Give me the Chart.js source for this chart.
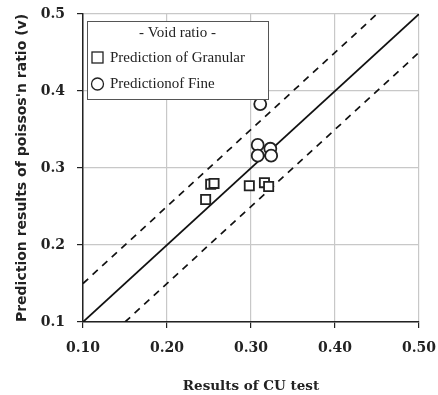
<!DOCTYPE html>
<html>
<head>
<meta charset="utf-8">
<script src="https://cdn.jsdelivr.net/npm/chart.js@4.4.1/dist/chart.umd.min.js"></script>
<style>
  html, body { margin: 0; padding: 0; background: #fff; }
</style>
</head>
<body>
<canvas id="chart" width="438" height="395"></canvas>
<script>
// values
const granularX = [0.246, 0.252, 0.256, 0.298, 0.316, 0.321];
const granularY = [0.259, 0.279, 0.280, 0.277, 0.281, 0.276];
const fineX = [0.311, 0.308, 0.323, 0.308, 0.324];
const fineY = [0.383, 0.330, 0.325, 0.316, 0.316];

// 1:1 line and +/-0.05 bounds
const lineX = [0.10, 0.50];
const lineY = [0.10, 0.50];
const upperX = [0.10, 0.45];
const upperY = [0.15, 0.50];
const lowerX = [0.15, 0.50];
const lowerY = [0.10, 0.45];

const axisTicks = [0.1, 0.2, 0.3, 0.4, 0.5];
const legendTitle = '- Void ratio -';
const seriesNames = ['Prediction of Granular', 'Predictionof Fine'];
const xTitle = 'Results of CU test';
const yTitle = "Prediction results of poissos'n ratio (v)";

const pts = (xs, ys) => xs.map((x, i) => ({ x: x, y: ys[i] }));

const legendBox = {
  id: 'legendBox',
  afterDatasetsDraw(chart) {
    const ctx = chart.ctx;
    const a = chart.chartArea;
    const x = a.left + 4, y = a.top + 7, w = 181, h = 78;
    ctx.save();
    ctx.fillStyle = '#fff';
    ctx.fillRect(x, y, w, h);
    ctx.strokeStyle = '#555';
    ctx.lineWidth = 1;
    ctx.strokeRect(x + 0.5, y + 0.5, w, h);
    ctx.fillStyle = '#222';
    ctx.font = '15px "Liberation Serif"';
    ctx.textBaseline = 'middle';
    ctx.textAlign = 'center';
    ctx.fillText(legendTitle, x + w / 2, y + 12);
    ctx.textAlign = 'left';
    ctx.fillText(seriesNames[0], x + 23, y + 37);
    ctx.fillText(seriesNames[1], x + 23, y + 63);
    ctx.strokeStyle = '#222';
    ctx.lineWidth = 1.3;
    ctx.strokeRect(x + 5, y + 31, 11, 11);
    ctx.beginPath();
    ctx.arc(x + 10.5, y + 63, 6, 0, Math.PI * 2);
    ctx.stroke();
    ctx.restore();
  }
};

const tickFont = { family: '"DejaVu Serif"', size: 14, weight: 'bold' };

new Chart(document.getElementById('chart'), {
  type: 'scatter',
  data: {
    datasets: [
      {
        label: seriesNames[0],
        data: pts(granularX, granularY),
        pointStyle: 'rect',
        pointRadius: 6.5,
        pointBackgroundColor: '#fff',
        pointBorderColor: '#222',
        pointBorderWidth: 1.8
      },
      {
        label: seriesNames[1],
        data: pts(fineX, fineY),
        pointStyle: 'circle',
        pointRadius: 6,
        pointBackgroundColor: '#fff',
        pointBorderColor: '#222',
        pointBorderWidth: 1.8
      },
      {
        type: 'line',
        data: pts(lineX, lineY),
        borderColor: '#111',
        borderWidth: 1.7,
        pointRadius: 0
      },
      {
        type: 'line',
        data: pts(upperX, upperY),
        borderColor: '#111',
        borderWidth: 1.7,
        borderDash: [7, 6],
        pointRadius: 0
      },
      {
        type: 'line',
        data: pts(lowerX, lowerY),
        borderColor: '#111',
        borderWidth: 1.7,
        borderDash: [7, 6],
        pointRadius: 0
      }
    ]
  },
  options: {
    responsive: false,
    animation: false,
    layout: { padding: 0 },
    plugins: { legend: { display: false }, tooltip: { enabled: false } },
    scales: {
      x: {
        type: 'linear',
        min: 0.1,
        max: 0.5,
        afterBuildTicks: s => { s.ticks = axisTicks.map(v => ({ value: v })); },
        afterFit: s => { s.height = 73; s.paddingRight = 19; s.paddingLeft = 0; },
        grid: { color: '#c8c8c8', lineWidth: 1.2, tickLength: 6, tickColor: '#222' },
        border: { color: '#222', width: 1.5 },
        ticks: { font: tickFont, color: '#222', padding: 12, callback: v => v.toFixed(2) },
        title: {
          display: true,
          text: xTitle,
          color: '#222',
          font: { family: '"DejaVu Serif"', size: 13.5, weight: 'bold' },
          padding: { top: 0, bottom: 0 }
        }
      },
      y: {
        type: 'linear',
        min: 0.1,
        max: 0.5,
        afterBuildTicks: s => { s.ticks = axisTicks.map(v => ({ value: v })); },
        afterFit: s => { s.width = 83; s.paddingTop = 14; s.paddingBottom = 0; },
        grid: { color: '#c8c8c8', lineWidth: 1.2, tickLength: 6, tickColor: '#222' },
        border: { color: '#222', width: 1.5 },
        ticks: { font: tickFont, color: '#222', padding: 12, callback: v => v.toFixed(1) },
        title: {
          display: true,
          text: yTitle,
          color: '#222',
          font: { family: '"DejaVu Sans"', size: 14, weight: 'bold' },
          padding: { top: 14, bottom: 0 }
        }
      }
    }
  },
  plugins: [legendBox]
});
</script>
</body>
</html>
